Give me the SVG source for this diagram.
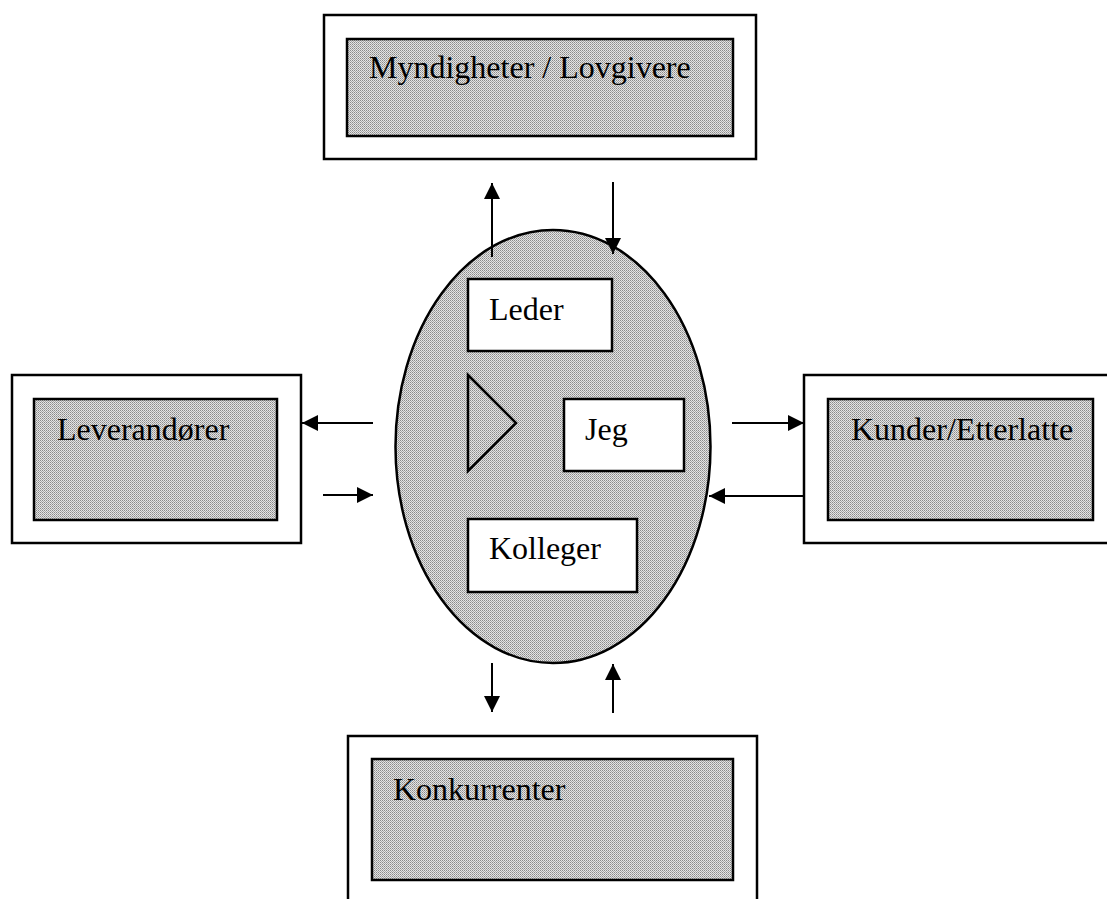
<svg xmlns="http://www.w3.org/2000/svg" width="1107" height="899" viewBox="0 0 1107 899">
  <style>
    .outer { fill: #ffffff; stroke: #000; stroke-width: 2.5; }
    .inner { fill: url(#dots); stroke: #000; stroke-width: 2.5; }
    .wbox { fill: #ffffff; stroke: #000; stroke-width: 2.5; }
    .lbl { font-family: "Liberation Serif", "Times New Roman", serif; font-size: 32px; fill: #000; }
    .conn line { stroke: #000; stroke-width: 2; }
  </style>
  <defs>
    <pattern id="dots" patternUnits="userSpaceOnUse" width="2" height="2">
      <rect width="2" height="2" fill="#e4e4e4"/>
      <rect x="0" y="0" width="1" height="1" fill="#8a8a8a"/>
      <rect x="1" y="1" width="1" height="1" fill="#a8a8a8"/>
    </pattern>
    <marker id="ah" markerUnits="userSpaceOnUse" markerWidth="18" markerHeight="16" refX="16" refY="8" orient="auto">
      <path d="M0,0 L16,8 L0,16 Z" fill="#000"/>
    </marker>
  </defs>

  <rect width="1107" height="899" fill="#ffffff"/>

  <g id="node-myndigheter">
    <rect class="outer" x="324" y="15" width="432" height="144"/>
    <rect class="inner" x="347" y="39" width="386" height="97"/>
    <text class="lbl" x="369" y="78">Myndigheter / Lovgivere</text>
  </g>

  <g id="node-leverandorer">
    <rect class="outer" x="12" y="375" width="289" height="168"/>
    <rect class="inner" x="34" y="399" width="243" height="121"/>
    <text class="lbl" x="57" y="440">Leverandører</text>
  </g>

  <g id="node-kunder">
    <rect class="outer" x="804" y="375" width="310" height="168"/>
    <rect class="inner" x="828" y="399" width="265" height="121"/>
    <text class="lbl" x="851" y="440">Kunder/Etterlatte</text>
  </g>

  <g id="node-konkurrenter">
    <rect class="outer" x="348" y="736" width="409" height="180"/>
    <rect class="inner" x="372" y="759" width="361" height="121"/>
    <text class="lbl" x="393" y="800">Konkurrenter</text>
  </g>

  <g id="node-organisasjon">
    <ellipse class="inner" cx="553" cy="446.5" rx="157.5" ry="216.5"/>
  </g>

  <g id="node-leder">
    <rect class="wbox" x="468" y="279" width="144" height="72"/>
    <text class="lbl" x="489" y="320">Leder</text>
  </g>

  <g id="node-triangel">
    <polygon points="468,375 516,423 468,471" fill="none" stroke="#000" stroke-width="2.5"/>
  </g>

  <g id="node-jeg">
    <rect class="wbox" x="564" y="399" width="120" height="72"/>
    <text class="lbl" x="585" y="440">Jeg</text>
  </g>

  <g id="node-kolleger">
    <rect class="wbox" x="468" y="519" width="169" height="73"/>
    <text class="lbl" x="489" y="559">Kolleger</text>
  </g>

  <g id="connectors" class="conn">
    <line x1="492" y1="257" x2="492" y2="183" marker-end="url(#ah)"/>
    <line x1="613" y1="182" x2="613" y2="254" marker-end="url(#ah)"/>
    <line x1="373" y1="423" x2="302" y2="423" marker-end="url(#ah)"/>
    <line x1="323" y1="495" x2="373" y2="495" marker-end="url(#ah)"/>
    <line x1="732" y1="423" x2="804" y2="423" marker-end="url(#ah)"/>
    <line x1="804" y1="496" x2="709" y2="496" marker-end="url(#ah)"/>
    <line x1="492" y1="663" x2="492" y2="712" marker-end="url(#ah)"/>
    <line x1="613" y1="713" x2="613" y2="664" marker-end="url(#ah)"/>
  </g>
</svg>
